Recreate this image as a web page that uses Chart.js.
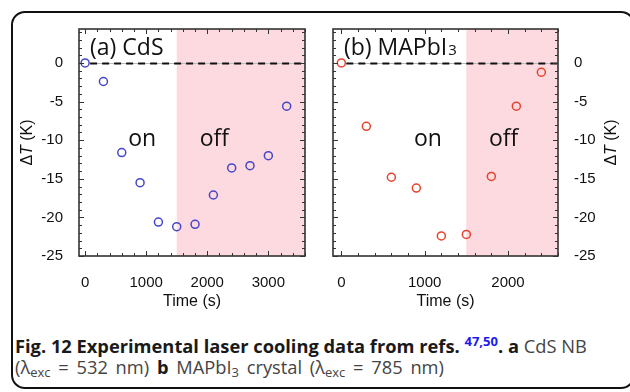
<!DOCTYPE html>
<html>
<head>
<meta charset="utf-8">
<script src="https://cdn.jsdelivr.net/npm/chart.js@4.4.1/dist/chart.umd.min.js"></script>
<style>
  html, body { margin: 0; padding: 0; background: #fff; }
  .fig { position: relative; width: 630px; height: 392px; overflow: hidden; }
  .frame {
    position: absolute; left: 11px; top: 11px; width: 620px; height: 374px;
    border: 2px solid #111; border-radius: 14px;
  }
  #chartA { position: absolute; left: 0; top: 0; }
  #chartB { position: absolute; left: 315px; top: 0; }
  .caption {
    position: absolute; left: 15px; top: 335px;
    font-family: "Open Sans", sans-serif; font-size: 18.3px; line-height: 21px;
    color: #444; white-space: nowrap;
  }
  .caption .l2 { word-spacing: 3px; }
  .caption b { color: #1a1a1a; font-weight: 700; }
  .caption sup { color: #1a1aee; font-size: 13px; font-weight: 700; vertical-align: 7px; line-height: 0; }
  .caption sub { font-size: 13px; vertical-align: -3px; line-height: 0; }
</style>
</head>
<body>
<div class="fig">
  <div class="frame"></div>
  <canvas id="chartA" width="320" height="320"></canvas>
  <canvas id="chartB" width="315" height="320"></canvas>
  <div class="caption">
    <div><b>Fig. 12 Experimental laser cooling data from refs. <sup>47,50</sup>. a</b> CdS NB</div>
    <div class="l2">(λ<sub>exc</sub> = 532 nm) <b>b</b> MAPbI<sub>3</sub> crystal (λ<sub>exc</sub> = 785 nm)</div>
  </div>
</div>
<script>
// data
const timeA = [0, 300, 600, 900, 1200, 1500, 1800, 2100, 2400, 2700, 3000, 3300];
const cdsDT = [0, -2.4, -11.6, -15.5, -20.6, -21.2, -20.9, -17.1, -13.6, -13.3, -12.0, -5.6];
const timeB = [0, 300, 600, 900, 1200, 1500, 1800, 2100, 2400];
const mapbiDT = [0, -8.2, -14.8, -16.2, -22.4, -22.2, -14.7, -5.6, -1.2];
const yTicks = [0, -5, -10, -15, -20, -25];
const xTicksA = [0, 1000, 2000, 3000];
const xTicksB = [0, 1000, 2000];
const laserOff = 1500;

const tickFont = { family: "'Liberation Sans', Arial, sans-serif", size: 15 };
const titleFont = { family: "'Liberation Sans', Arial, sans-serif", size: 16 };
const ink = "#111";

function tickMarks(ctx, scale, area, horizontal, minor, major) {
  const n0 = Math.ceil(scale.min / minor);
  const n1 = Math.floor(scale.max / minor);
  for (let n = n0; n <= n1; n++) {
    const v = n * minor;
    const len = Math.abs(v % major) < 1e-6 ? 5 : 3;
    const p = Math.round(scale.getPixelForValue(v)) + 0.5;
    ctx.beginPath();
    if (horizontal) {
      ctx.moveTo(p, area.bottom); ctx.lineTo(p, area.bottom - len);
      ctx.moveTo(p, area.top); ctx.lineTo(p, area.top + len);
    } else {
      ctx.moveTo(area.left, p); ctx.lineTo(area.left + len, p);
      ctx.moveTo(area.right, p); ctx.lineTo(area.right - len, p);
    }
    ctx.stroke();
  }
}

const decorPlugin = {
  id: "decor",
  beforeDatasetsDraw(chart, args, opts) {
    const { ctx, chartArea: a, scales: { x, y } } = chart;
    ctx.save();
    // laser off region
    ctx.fillStyle = "#fdd9e0";
    const xo = x.getPixelForValue(laserOff);
    ctx.fillRect(xo, a.top, a.right - xo, a.bottom - a.top);
    // zero line
    const y0 = Math.round(y.getPixelForValue(0)) + 0.5;
    const xs = x.getPixelForValue(0) + 5;
    ctx.strokeStyle = "#bbb";
    ctx.lineWidth = 1;
    ctx.beginPath(); ctx.moveTo(xs, y0); ctx.lineTo(a.right, y0); ctx.stroke();
    ctx.strokeStyle = "#111";
    ctx.lineWidth = 2;
    ctx.setLineDash([7, 5]);
    ctx.beginPath(); ctx.moveTo(xs, y0); ctx.lineTo(a.right, y0); ctx.stroke();
    ctx.setLineDash([]);
    // panel label
    ctx.fillStyle = ink;
    ctx.textBaseline = "alphabetic";
    ctx.textAlign = "left";
    ctx.font = "23px 'Open Sans', sans-serif";
    const lx = a.left + 11, ly = a.top + 26;
    ctx.fillText(opts.label, lx, ly);
    if (opts.sub) {
      const w = ctx.measureText(opts.label).width;
      ctx.font = "15px 'Open Sans', sans-serif";
      ctx.fillText(opts.sub, lx + w + 1, ly);
    }
    // on / off
    ctx.font = "23px 'Open Sans', sans-serif";
    ctx.textAlign = "center";
    const ty = y.getPixelForValue(-10.75);
    ctx.fillText("on", x.getPixelForValue(opts.onX), ty);
    ctx.fillText("off", x.getPixelForValue(opts.offX), ty);
    ctx.restore();
  },
  afterDatasetsDraw(chart, args, opts) {
    const { ctx, chartArea: a, scales: { x, y } } = chart;
    ctx.save();
    ctx.strokeStyle = "#333";
    ctx.lineWidth = 1;
    tickMarks(ctx, x, a, true, 200, 1000);
    tickMarks(ctx, y, a, false, 1, 5);
    ctx.lineWidth = 1.6;
    ctx.strokeRect(a.left, a.top, a.right - a.left, a.bottom - a.top);
    // y title: ΔT (K), T in italics, reading bottom to top
    ctx.translate(opts.titleX, (a.top + a.bottom) / 2);
    ctx.rotate(-Math.PI / 2);
    ctx.fillStyle = ink;
    ctx.textBaseline = "middle";
    ctx.textAlign = "left";
    const reg = "16px 'Liberation Sans', Arial, sans-serif";
    const ita = "italic 16px 'Liberation Sans', Arial, sans-serif";
    const parts = [["Δ", reg], ["T", ita], [" (K)", reg]];
    let total = 0;
    parts.forEach(([t, f]) => { ctx.font = f; total += ctx.measureText(t).width; });
    let cx = -total / 2;
    parts.forEach(([t, f]) => { ctx.font = f; ctx.fillText(t, cx, 0); cx += ctx.measureText(t).width; });
    ctx.restore();
  },
};

function makePanel(id, xs, ys, color, xMax, xTicks, side, padding, yWidth, decor) {
  return new Chart(document.getElementById(id), {
    type: "scatter",
    data: {
      datasets: [{
        data: xs.map((v, i) => ({ x: v, y: ys[i] })),
        borderColor: color,
        backgroundColor: "rgba(0,0,0,0)",
        pointRadius: 4,
        pointHoverRadius: 4,
        borderWidth: 1.5,
      }],
    },
    options: {
      responsive: false,
      animation: false,
      events: [],
      layout: { autoPadding: false, padding: padding },
      plugins: {
        legend: { display: false },
        tooltip: { enabled: false },
        decor: decor,
      },
      scales: {
        x: {
          type: "linear",
          min: -100,
          max: xMax,
          afterBuildTicks: (s) => { s.ticks = xTicks.map((v) => ({ value: v })); },
          afterFit: (s) => { s.height = 55; },
          grid: { display: false },
          border: { display: false },
          ticks: {
            font: tickFont, color: ink, padding: 10, maxRotation: 0, autoSkip: false,
            callback: (v) => String(v),
          },
          title: { display: true, text: "Time (s)", font: titleFont, color: ink, padding: 0 },
        },
        y: {
          position: side,
          min: -25,
          max: 4.4,
          afterBuildTicks: (s) => { s.ticks = yTicks.map((v) => ({ value: v })); },
          afterFit: (s) => { s.width = yWidth; },
          grid: { display: false },
          border: { display: false },
          ticks: { font: tickFont, color: ink, padding: 8, autoSkip: false, callback: (v) => String(v) },
        },
      },
    },
    plugins: [decorPlugin],
  });
}

makePanel("chartA", timeA, cdsDT, "#4646c8", 3600, xTicksA, "left",
  { left: 0, right: 15, top: 29, bottom: 9 }, 79,
  { label: "(a) CdS", onX: 935, offX: 2115, titleX: 28 });

makePanel("chartB", timeB, mapbiDT, "#e8422c", 2600, xTicksB, "right",
  { left: 18, right: 0, top: 29, bottom: 9 }, 72,
  { label: "(b) MAPbI", sub: "3", onX: 1040, offX: 1947, titleX: 297 });
</script>
</body>
</html>
